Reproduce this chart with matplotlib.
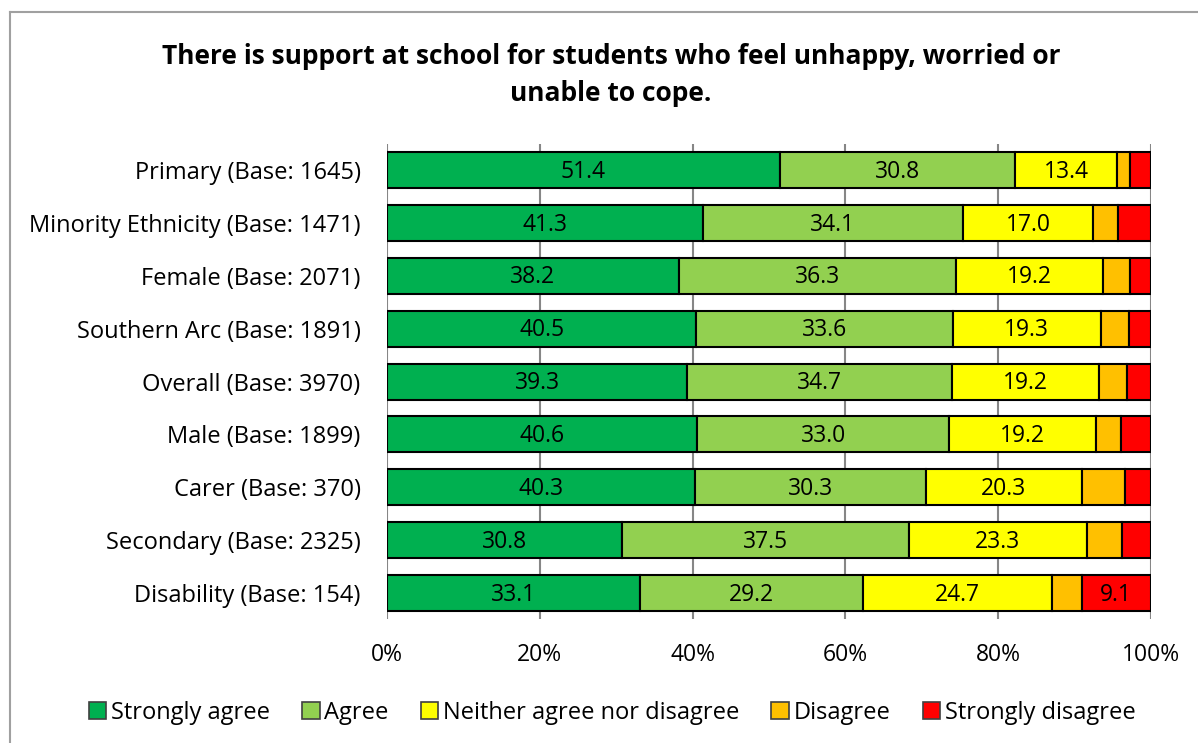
import matplotlib
matplotlib.use("Agg")
import matplotlib.pyplot as plt
from matplotlib.lines import Line2D
from matplotlib.patches import Patch
import numpy as np

plt.rcParams['font.family'] = ['Open Sans', 'DejaVu Sans']

categories = ["Primary (Base: 1645)", "Minority Ethnicity (Base: 1471)", "Female (Base: 2071)",
              "Southern Arc (Base: 1891)", "Overall (Base: 3970)", "Male (Base: 1899)",
              "Carer (Base: 370)", "Secondary (Base: 2325)", "Disability (Base: 154)"]
series_names = ["Strongly agree", "Agree", "Neither agree nor disagree", "Disagree", "Strongly disagree"]
strongly_agree = [51.4, 41.3, 38.2, 40.5, 39.3, 40.6, 40.3, 30.8, 33.1]
agree = [30.8, 34.1, 36.3, 33.6, 34.7, 33.0, 30.3, 37.5, 29.2]
neither = [13.4, 17.0, 19.2, 19.3, 19.2, 19.2, 20.3, 23.3, 24.7]
disagree = [1.7, 3.3, 3.6, 3.7, 3.6, 3.3, 5.7, 4.6, 3.9]
strongly_disagree = [2.7, 4.3, 2.7, 2.9, 3.2, 3.9, 3.4, 3.8, 9.1]
colors = ["#00B050", "#92D050", "#FFFF00", "#FFC000", "#FF0000"]
title = "There is support at school for students who feel unhappy, worried or\nunable to cope."

fig = plt.figure(figsize=(11.98, 7.43), dpi=100)
ax = fig.add_axes([0.323, 0.1663, 0.6378, 0.6404])

data = [strongly_agree, agree, neither, disagree, strongly_disagree]
y = np.arange(len(categories))
left = np.zeros(len(categories))
for vals, col, name in zip(data, colors, series_names):
    vals = np.array(vals)
    bars = ax.barh(y, vals, left=left, height=0.68, color=col, edgecolor="black",
                   linewidth=1.5, label=name, zorder=3)
    for b, v in zip(bars, vals):
        if v >= 9:
            ax.text(b.get_x() + b.get_width() / 2, b.get_y() + b.get_height() / 2 + 0.03,
                    f"{v:.1f}", ha="center", va="center", fontsize=16.5, color="black", zorder=4)
    left += vals

ax.set_xlim(0, 100)
ax.set_ylim(len(categories) - 0.5, -0.5)
ax.set_yticks(y)
ax.set_yticklabels(categories, fontsize=17)
ax.set_xticks([0, 20, 40, 60, 80, 100])
ax.set_xticklabels(["0%", "20%", "40%", "60%", "80%", "100%"], fontsize=16.5)
ax.tick_params(axis="y", length=0, pad=19)
ax.tick_params(axis="x", length=0, pad=17)
ax.grid(axis="x", color="#868686", linewidth=1.5, zorder=0)
for s in ax.spines.values():
    s.set_visible(False)

fig.text(0.51, 0.899, title, ha="center", va="center", fontsize=19, fontweight="bold",
         linespacing=1.45)

handles = [Patch(facecolor=c, edgecolor="#404040", linewidth=1.2) for c in colors]
fig.legend(handles, series_names, loc="center", bbox_to_anchor=(0.511, 0.041), ncol=5,
           frameon=False, fontsize=17, handlelength=0.75, handleheight=0.75,
           handletextpad=0.2, columnspacing=1.35)

fig.add_artist(Line2D([0.0085, 0.0085], [0, 0.984], color="#A0A0A0", linewidth=1.5,
                      transform=fig.transFigure))
fig.add_artist(Line2D([0.0085, 1.0], [0.984, 0.984], color="#A0A0A0", linewidth=1.5,
                      transform=fig.transFigure))

fig.savefig("out.png", dpi=100)
